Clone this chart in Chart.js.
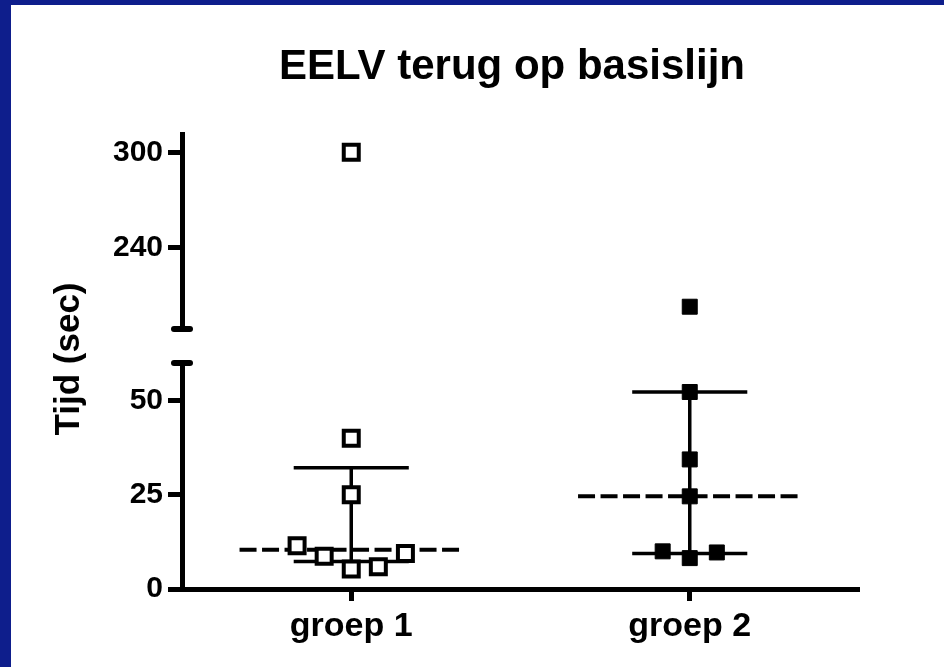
<!DOCTYPE html>
<html>
<head>
<meta charset="utf-8">
<title>EELV terug op basislijn</title>
<script src="https://cdn.jsdelivr.net/npm/chart.js@4"></script>
<style>
  html, body { margin: 0; padding: 0; }
  body { width: 944px; height: 667px; background: #0e1e8c; position: relative; overflow: hidden; }
  #panel { position: absolute; left: 11px; top: 5px; width: 933px; height: 662px; background: #fff; }
</style>
</head>
<body>
<div id="panel"><canvas id="myChart"></canvas></div>
<script>
"use strict";

// categories and values (seconds)
const categories = ["groep 1", "groep 2"];
const groep1 = [300, 40, 25, 11.5, 8.7, 5.3, 5.9, 9.4];
const groep1Jitter = [0, 0, 0, -0.16, -0.08, 0, 0.08, 0.16];
const groep2 = [203, 52.3, 34.4, 24.6, 10.0, 8.2, 9.7];
const groep2Jitter = [0, 0, 0, 0, -0.08, 0, 0.08];

// median and interquartile range per group
const medians = [10.4, 24.6];
const q1 = [7.3, 9.4];
const q3 = [32.2, 52.3];

// broken y axis
const lowerTicks = [0, 25, 50];
const upperTicks = [240, 300];
const breakValue = 100;

const font = '"Liberation Sans", Arial, sans-serif';
Chart.defaults.color = "#000";
Chart.defaults.font.family = font;

// split a group into the lower and upper part of the axis
const points = function (values, jitter, i, upper) {
  let out = [];
  for (let k = 0; k < values.length; k++) {
    if ((values[k] > breakValue) === upper) {
      out.push({ x: i + jitter[k], y: values[k] });
    }
  }
  return out;
};

const pointSet = function (data, axis, open) {
  return {
    type: "scatter",
    data: data,
    yAxisID: axis,
    pointStyle: "rect",
    pointRadius: 10.6,
    backgroundColor: open ? "#fff" : "#000",
    borderColor: "#000",
    borderWidth: open ? 4 : 1,
    order: 0,
  };
};

let datasets = [
  pointSet(points(groep1, groep1Jitter, 0, false), "yBot", true),
  pointSet(points(groep1, groep1Jitter, 0, true), "yTop", true),
  pointSet(points(groep2, groep2Jitter, 1, false), "yBot", false),
  pointSet(points(groep2, groep2Jitter, 1, true), "yTop", false),
];

// median (dashed) and interquartile bars
for (let i = 0; i < categories.length; i++) {
  datasets.push({
    type: "line",
    data: [{ x: i - 0.33, y: medians[i] }, { x: i + 0.33, y: medians[i] }],
    yAxisID: "yBot",
    borderColor: "#000",
    borderWidth: 4,
    borderDash: [17, 5.5],
    pointRadius: 0,
    order: 1,
  });
  datasets.push({
    type: "line",
    data: [
      { x: i - 0.17, y: q3[i] }, { x: i + 0.17, y: q3[i] }, { x: i, y: null },
      { x: i, y: q3[i] }, { x: i, y: q1[i] }, { x: i, y: null },
      { x: i - 0.17, y: q1[i] }, { x: i + 0.17, y: q1[i] },
    ],
    yAxisID: "yBot",
    borderColor: "#000",
    borderWidth: 3.5,
    pointRadius: 0,
    spanGaps: false,
    order: 1,
  });
}

const tickFont = { family: font, size: 30, weight: "bold" };

// left padding + axis width puts the plot edge where the picture has it,
// an empty right axis keeps the title centred like the original
const padLeft = 69;
const axisWidth = 102;
const rightSpace = 85;

const yAxis = function (min, max, weight, ticks) {
  return {
    type: "linear",
    position: "left",
    stack: "y",
    stackWeight: weight,
    min: min,
    max: max,
    afterFit: function (s) { s.width = axisWidth; },
    afterBuildTicks: function (s) { s.ticks = ticks.map(function (v) { return { value: v }; }); },
    border: { color: "#000", width: 5 },
    grid: { drawOnChartArea: false, color: "#000", tickLength: 14, tickWidth: 5 },
    ticks: { font: tickFont, padding: 5, color: "#000" },
  };
};

// small caps at the ends of the two axis pieces, and the y title
const breakCaps = {
  id: "breakCaps",
  afterDraw: function (chart) {
    const ctx = chart.ctx;
    const left = chart.chartArea.left;
    ctx.save();
    ctx.strokeStyle = "#000";
    ctx.lineWidth = 6;
    ctx.lineCap = "round";
    [chart.scales.yTop.bottom, chart.scales.yBot.top].forEach(function (y) {
      ctx.beginPath();
      ctx.moveTo(left - 8, y);
      ctx.lineTo(left + 8, y);
      ctx.stroke();
    });
    ctx.translate(left - 113, chart.scales.yBot.top - 4);
    ctx.rotate(-Math.PI / 2);
    ctx.font = "bold 35px " + font;
    ctx.fillStyle = "#000";
    ctx.textAlign = "center";
    ctx.textBaseline = "middle";
    ctx.fillText("Tijd (sec)", 0, 0);
    ctx.restore();
  },
};

const ctx = document.getElementById("myChart");

new Chart(ctx, {
  data: { datasets: datasets },
  plugins: [breakCaps],
  options: {
    responsive: true,
    maintainAspectRatio: false,
    animation: false,
    events: [],
    layout: { padding: { left: padLeft, right: 0, top: 0, bottom: 0 } },
    plugins: {
      legend: { display: false },
      tooltip: { enabled: false },
      title: {
        display: true,
        text: "EELV terug op basislijn",
        color: "#000",
        font: { family: font, size: 42, weight: "bold" },
        padding: { top: 37, bottom: 41.6 },
      },
    },
    scales: {
      x: {
        type: "linear",
        position: "bottom",
        min: -0.5,
        max: 1.5,
        afterFit: function (s) { s.height = 78; },
        afterBuildTicks: function (s) { s.ticks = categories.map(function (c, i) { return { value: i }; }); },
        border: { color: "#000", width: 5 },
        grid: { drawOnChartArea: false, color: "#000", tickLength: 12, tickWidth: 5 },
        ticks: {
          font: { family: font, size: 34, weight: "bold" },
          padding: 5,
          color: "#000",
          callback: function (v) { return categories[v]; },
        },
      },
      yBot: yAxis(0, 60, 226, lowerTicks),
      yGap: {
        type: "linear",
        position: "left",
        stack: "y",
        stackWeight: 34,
        min: 0,
        max: 1,
        afterFit: function (s) { s.width = axisWidth; },
        border: { display: false },
        grid: { display: false },
        ticks: { display: false },
      },
      yTop: yAxis(189, 311.5, 195, upperTicks),
      yRight: {
        type: "linear",
        position: "right",
        afterFit: function (s) { s.width = rightSpace; },
        border: { display: false },
        grid: { display: false },
        ticks: { display: false },
      },
    },
  },
});
</script>
</body>
</html>
